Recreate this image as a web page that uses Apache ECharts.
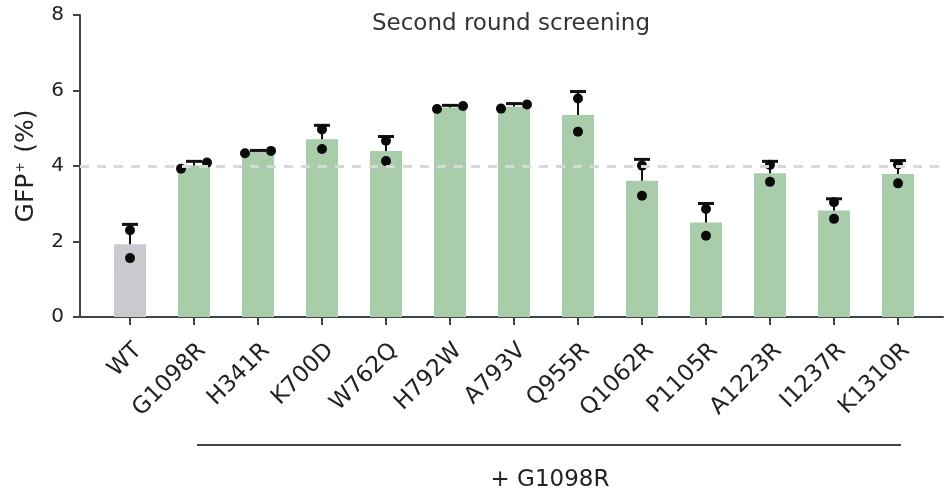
<!DOCTYPE html>
<html>
<head>
<meta charset="utf-8">
<title>Second round screening</title>
<script src="https://cdn.jsdelivr.net/npm/echarts/dist/echarts.min.js"></script>
<style>
  html, body { margin: 0; padding: 0; background: #fff; }
  #chart { width: 944px; height: 494px; }
</style>
</head>
<body>
<div id="chart"></div>
<script>
// Variants tested in the second screening round (two replicates each)
const categories = ['WT', 'G1098R', 'H341R', 'K700D', 'W762Q', 'H792W', 'A793V',
  'Q955R', 'Q1062R', 'P1105R', 'A1223R', 'I1237R', 'K1310R'];
const replicateA = [2.30, 3.93, 4.34, 4.97, 4.67, 5.51, 5.52, 5.79, 4.01, 2.86, 4.03, 3.04, 4.04];
const replicateB = [1.56, 4.09, 4.40, 4.45, 4.13, 5.59, 5.63, 4.91, 3.21, 2.15, 3.58, 2.60, 3.54];
const yTicks = [0, 2, 4, 6, 8];
const referenceLevel = 4;
const groupLabel = '+ G1098R';
const groupFirst = 'G1098R';
const groupLast = 'K1310R';

const FONT = 'DejaVu Sans';
const AXIS_COLOR = '#444';
const GREEN = '#a9cdab';
const GREY = '#c9c9cf';

// mean and sample standard deviation of each pair of replicates
const means = categories.map((c, i) => (replicateA[i] + replicateB[i]) / 2);
const sds = categories.map((c, i) => {
  const m = means[i];
  const a = replicateA[i], b = replicateB[i];
  return Math.sqrt(((a - m) ** 2 + (b - m) ** 2) / (2 - 1));
});

// replicate dots; nearly equal pairs are spread sideways so both stay visible
const dotPoints = [];
categories.forEach((c, i) => {
  const pair = [replicateA[i], replicateB[i]].sort((p, q) => p - q);
  const spread = Math.abs(pair[1] - pair[0]) < 0.25;
  pair.forEach((v, k) => {
    dotPoints.push({
      value: [i, v],
      symbolOffset: [spread ? (k === 0 ? -13 : 13) : 0, 0]
    });
  });
});

const errorData = categories.map((c, i) => [i, means[i], means[i] + sds[i]]);

const chart = echarts.init(document.getElementById('chart'), null, { renderer: 'canvas' });

const option = {
  backgroundColor: '#ffffff',
  animation: false,
  title: {
    text: 'Second round screening',
    left: 506,
    top: 8,
    textAlign: 'center',
    textStyle: { fontFamily: FONT, fontSize: 23, fontWeight: 'normal', color: '#333' }
  },
  grid: [
    { left: 98, right: 14, top: 15, bottom: 177 },
    { left: 80, right: 1, top: 15, bottom: 177 }
  ],
  xAxis: [
    {
      gridIndex: 0,
      type: 'category',
      data: categories,
      boundaryGap: true,
      axisLine: { show: false },
      axisTick: {
        show: true, alignWithLabel: true, length: 8,
        lineStyle: { color: AXIS_COLOR, width: 2 }
      },
      axisLabel: {
        rotate: 45, margin: 22, interval: 0, verticalAlign: 'top',
        fontFamily: FONT, fontSize: 23, color: '#222'
      },
      splitLine: { show: false }
    },
    {
      gridIndex: 1,
      type: 'value',
      min: 0, max: 1,
      axisLine: { show: true, onZero: false, lineStyle: { color: AXIS_COLOR, width: 2 } },
      axisTick: { show: false },
      axisLabel: { show: false },
      splitLine: { show: false }
    }
  ],
  yAxis: [
    {
      gridIndex: 0,
      type: 'value',
      min: yTicks[0],
      max: yTicks[yTicks.length - 1],
      interval: yTicks[1] - yTicks[0],
      offset: 18,
      axisLine: { show: true, lineStyle: { color: AXIS_COLOR, width: 2 } },
      axisTick: { show: true, length: 7, lineStyle: { color: AXIS_COLOR, width: 2 } },
      axisLabel: { margin: 16, fontFamily: FONT, fontSize: 20, color: '#222' },
      splitLine: { show: false },
      name: '{a|GFP}{s|+}{a| (%)}',
      nameLocation: 'middle',
      nameRotate: 90,
      nameGap: 41,
      nameTextStyle: {
        rich: {
          a: { fontFamily: FONT, fontSize: 25, color: '#222' },
          s: { fontFamily: FONT, fontSize: 13, color: '#222', verticalAlign: 'top', padding: [0, 1, 12, 1] }
        }
      }
    },
    {
      gridIndex: 1,
      type: 'value',
      min: yTicks[0],
      max: yTicks[yTicks.length - 1],
      show: false
    }
  ],
  series: [
    {
      // full-width baseline grid carrying the dashed reference level
      type: 'line',
      xAxisIndex: 1,
      yAxisIndex: 1,
      data: [],
      z: 1,
      markLine: {
        silent: true,
        symbol: 'none',
        label: { show: false },
        lineStyle: { type: [9, 8], color: '#d8d8d8', width: 3 },
        data: [{ yAxis: referenceLevel }]
      }
    },
    {
      type: 'bar',
      xAxisIndex: 0,
      yAxisIndex: 0,
      barWidth: 32,
      z: 2,
      data: means.map((m, i) => ({
        value: m,
        itemStyle: { color: i === 0 ? GREY : GREEN }
      }))
    },
    {
      type: 'custom',
      xAxisIndex: 0,
      yAxisIndex: 0,
      z: 3,
      encode: { x: 0, y: [1, 2] },
      data: errorData,
      renderItem: function (params, api) {
        const base = api.coord([api.value(0), api.value(1)]);
        const top = api.coord([api.value(0), api.value(2)]);
        const half = 8;
        return {
          type: 'group',
          children: [
            { type: 'line', shape: { x1: base[0], y1: base[1], x2: top[0], y2: top[1] },
              style: { stroke: '#111', lineWidth: 2 } },
            { type: 'line', shape: { x1: top[0] - half, y1: top[1], x2: top[0] + half, y2: top[1] },
              style: { stroke: '#111', lineWidth: 3 } }
          ]
        };
      }
    },
    {
      type: 'scatter',
      xAxisIndex: 0,
      yAxisIndex: 0,
      z: 4,
      symbol: 'circle',
      symbolSize: 10,
      itemStyle: { color: '#0a0a0a', opacity: 1 },
      data: dotPoints
    }
  ]
};

chart.setOption(option);

// bracket under the variants that carry the G1098R background
const xStart = chart.convertToPixel({ xAxisIndex: 0 }, groupFirst);
const xEnd = chart.convertToPixel({ xAxisIndex: 0 }, groupLast);
const yBase = chart.convertToPixel({ yAxisIndex: 0 }, 0);
chart.setOption({
  graphic: [
    {
      type: 'line',
      shape: { x1: xStart + 3, y1: yBase + 128, x2: xEnd + 3, y2: yBase + 128 },
      style: { stroke: '#444', lineWidth: 2 }
    },
    {
      type: 'text',
      x: (xStart + xEnd) / 2 + 4,
      y: yBase + 163,
      style: {
        text: groupLabel,
        fontFamily: FONT, fontSize: 23, fill: '#222',
        textAlign: 'center', textVerticalAlign: 'middle'
      }
    }
  ]
});
</script>
</body>
</html>
